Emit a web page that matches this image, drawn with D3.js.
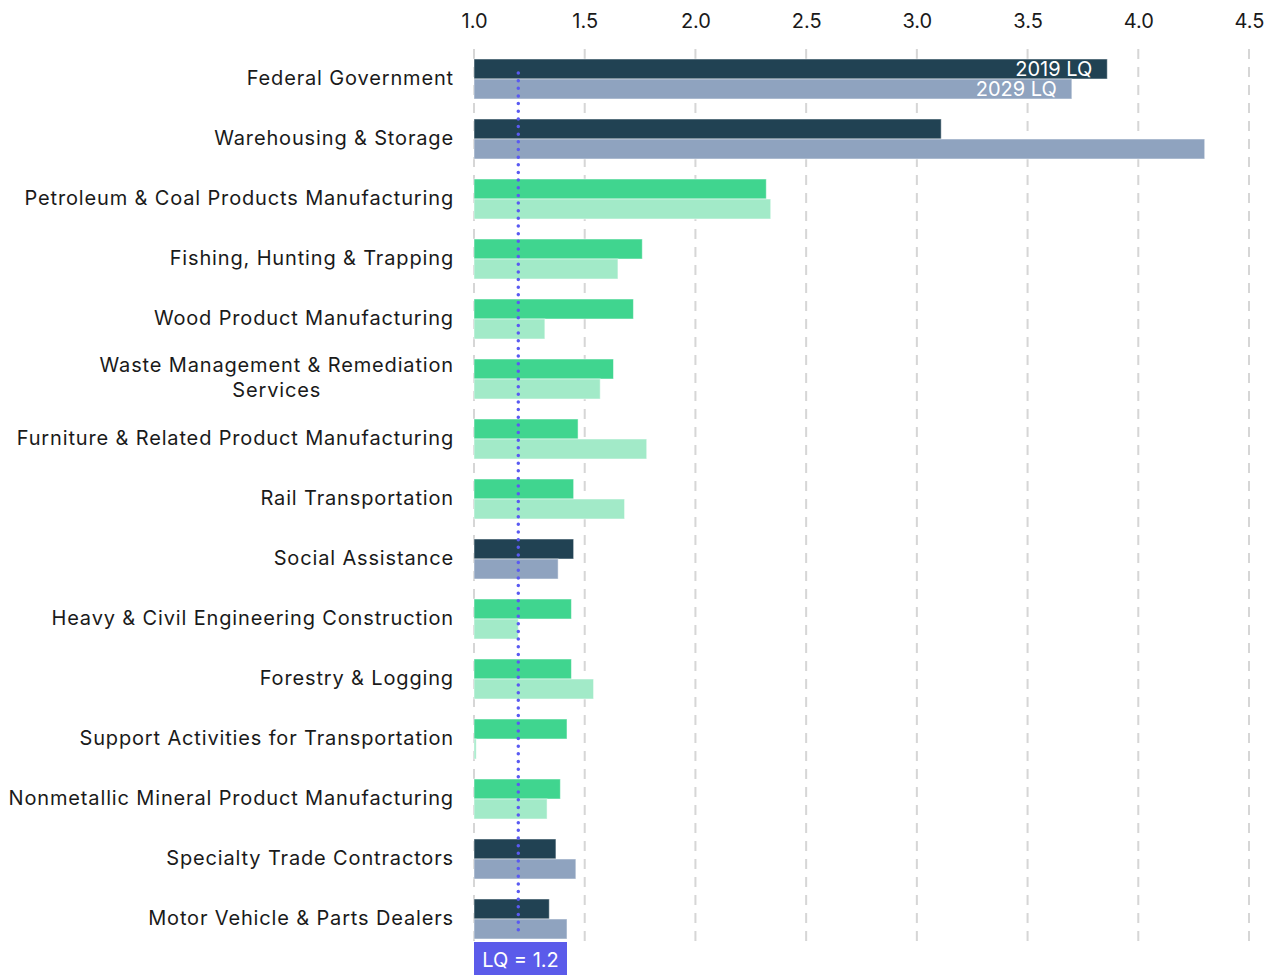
<!DOCTYPE html>
<html>
<head>
<meta charset="utf-8">
<script src="https://cdn.jsdelivr.net/npm/d3@7"></script>
<style>
  body { margin: 0; background: #fff; }
  text { font-family: Inter, "Noto Sans", sans-serif; fill: #1a1a1a; }
  .cat { letter-spacing: 0.85px; }
</style>
</head>
<body>
<svg id="chart" width="1276" height="975"></svg>
<script>
const industries = [
  "Federal Government",
  "Warehousing & Storage",
  "Petroleum & Coal Products Manufacturing",
  "Fishing, Hunting & Trapping",
  "Wood Product Manufacturing",
  "Waste Management & Remediation|Services",
  "Furniture & Related Product Manufacturing",
  "Rail Transportation",
  "Social Assistance",
  "Heavy & Civil Engineering Construction",
  "Forestry & Logging",
  "Support Activities for Transportation",
  "Nonmetallic Mineral Product Manufacturing",
  "Specialty Trade Contractors",
  "Motor Vehicle & Parts Dealers"
];
// which palette each industry uses
const group = ["navy", "navy", "green", "green", "green", "green", "green", "green",
               "navy", "green", "green", "green", "green", "navy", "navy"];
const lq2019 = [3.86, 3.11, 2.32, 1.76, 1.72, 1.63, 1.47, 1.45, 1.45, 1.44, 1.44, 1.42, 1.39, 1.37, 1.34];
const lq2029 = [3.70, 4.30, 2.34, 1.65, 1.32, 1.57, 1.78, 1.68, 1.38, 1.20, 1.54, 1.01, 1.33, 1.46, 1.42];
const years = ["2019", "2029"];
const ticks = [1.0, 1.5, 2.0, 2.5, 3.0, 3.5, 4.0, 4.5];
const threshold = 1.2;

const colors = {
  navy: { "2019": "#214253", "2029": "#8fa3bf" },
  green: { "2019": "#40d58f", "2029": "#a2eac8" }
};

const svg = d3.select("#chart");
const x = d3.scaleLinear().domain([1, 4.5]).range([474, 1249]);
const y = d3.scaleBand().domain(industries).range([49, 949]);
const sub = d3.scaleBand().domain(years).range([10, 50]);

// dashed grid
svg.append("g").selectAll("line").data(ticks).join("line")
  .attr("x1", d => x(d)).attr("x2", d => x(d))
  .attr("y1", 49).attr("y2", 948)
  .attr("stroke", "#d6d6d6").attr("stroke-width", 2)
  .attr("stroke-dasharray", "10 8");

// top axis labels
const axis = svg.append("g")
  .attr("transform", "translate(0,17)")
  .call(d3.axisTop(x).tickValues(ticks).tickFormat(d3.format(".1f")).tickSize(0).tickPadding(0));
axis.select(".domain").remove();
axis.selectAll("text")
  .attr("font-size", 20).attr("fill", "#1a1a1a")
  .attr("dy", "0.55em")
  .style("font-family", "Inter, 'Noto Sans', sans-serif");

const rows = industries.map((name, i) => ({
  name, group: group[i], values: [lq2019[i], lq2029[i]]
}));

const rowG = svg.append("g").selectAll("g").data(rows).join("g")
  .attr("transform", d => `translate(0,${y(d.name)})`);

rowG.selectAll("rect").data(d => years.map((yr, j) => ({ yr, v: d.values[j], group: d.group })))
  .join("rect")
  .attr("x", x(1))
  .attr("y", d => sub(d.yr))
  .attr("width", d => x(d.v) - x(1))
  .attr("height", sub.bandwidth())
  .attr("fill", d => colors[d.group][d.yr])
  .attr("stroke", "rgba(255,255,255,0.5)")
  .attr("stroke-width", 1);

// category labels
rowG.each(function (d) {
  const g = d3.select(this);
  const lines = d.name.split("|");
  if (lines.length === 1) {
    g.append("text").attr("class", "cat")
      .attr("x", 454).attr("y", 29).attr("dy", "0.35em")
      .attr("text-anchor", "end").attr("font-size", 20)
      .text(lines[0]);
  } else {
    const first = g.append("text").attr("class", "cat")
      .attr("x", 454).attr("y", 16).attr("dy", "0.35em")
      .attr("text-anchor", "end").attr("font-size", 20)
      .text(lines[0]);
    const w = first.node().getComputedTextLength();
    g.append("text").attr("class", "cat")
      .attr("x", 454 - w / 2).attr("y", 41).attr("dy", "0.35em")
      .attr("text-anchor", "middle").attr("font-size", 20)
      .text(lines[1]);
  }
});

// in-bar legend on first row
const first = rows[0];
years.forEach((yr, j) => {
  svg.append("text")
    .attr("x", x(first.values[j]) - 15)
    .attr("y", y(first.name) + sub(yr) + sub.bandwidth() / 2)
    .attr("dy", "0.35em")
    .attr("text-anchor", "end")
    .attr("font-size", 20)
    .style("fill", "#fff")
    .text(yr + " LQ");
});

// LQ threshold line
svg.append("line")
  .attr("x1", x(threshold)).attr("x2", x(threshold))
  .attr("y1", 73).attr("y2", 930)
  .attr("stroke", "#5a5af2").attr("stroke-width", 3.5)
  .attr("stroke-linecap", "round")
  .attr("stroke-dasharray", "0 7.65");

svg.append("rect")
  .attr("x", x(1)).attr("y", 942)
  .attr("width", 93).attr("height", 34)
  .attr("fill", "#5b5bea");
svg.append("text")
  .attr("x", x(1) + 46.5).attr("y", 960).attr("dy", "0.35em")
  .attr("text-anchor", "middle").attr("font-size", 20)
  .style("fill", "#fff")
  .text("LQ = " + threshold);
</script>
</body>
</html>
